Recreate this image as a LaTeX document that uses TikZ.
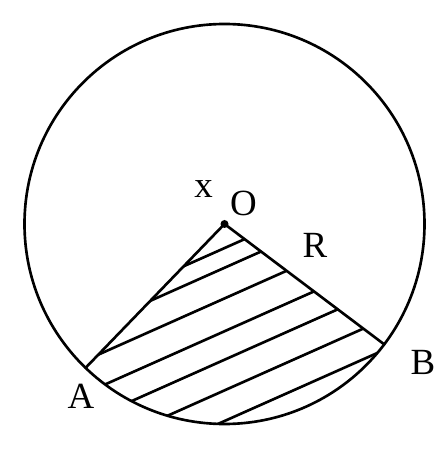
\documentclass[tikz,border=0pt]{standalone}
\usepackage{fontspec}
\setmainfont{Liberation Serif}
\usepackage{tikz}
\usetikzlibrary{calc}

\begin{document}
\begin{tikzpicture}[line width=1.5pt, line cap=round,
    nhan/.style={inner sep=0pt, font=\fontsize{21}{24}\selectfont}]

    \useasboundingbox (-4.49,-4.94) rectangle (4.39,4.48);

    % =================================================================
    % 1. CÁC ĐIỂM O, A, B
    % =================================================================
    \coordinate (O) at (0,0);
    \coordinate (A) at (226:4);
    \coordinate (B) at (323:4);

    % =================================================================
    % 2. GẠCH SỌC HÌNH QUẠT AOB
    % =================================================================
    \begin{scope}
        \clip (O) -- (A) arc[start angle=226, end angle=323, radius=4] -- cycle;
        \foreach \d in {0.44, 0.80, 1.36, 1.96, 2.48, 3.04, 3.60} {
            \draw ($(O)+(-66:\d)$) ++(204:5) -- ++(24:10);
        }
    \end{scope}

    % =================================================================
    % 3. ĐƯỜNG TRÒN VÀ BÁN KÍNH
    % =================================================================
    \draw (O) circle[radius=4];
    \draw (A) -- (O) -- (B);
    \fill (O) circle[radius=0.08];

    % Tên các điểm
    \node[nhan] (lx) at (-0.42, 0.69) {x};
    \node[nhan] (lO) at (0.38, 0.42) {O};
    \node[nhan] (lR) at (1.81, -0.42) {R};
    \node[nhan] (lA) at (-2.87, -3.44) {A};
    \node[nhan] (lB) at (3.97, -2.77) {B};

\end{tikzpicture}
\end{document}
